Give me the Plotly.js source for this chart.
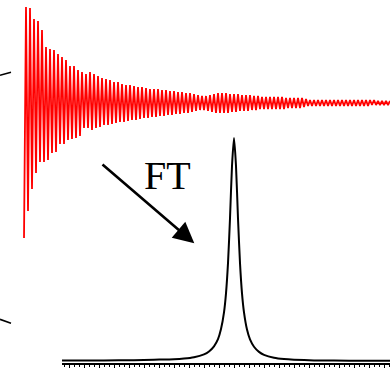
<!DOCTYPE html>
<html>
<head>
<meta charset="utf-8">
<script src="https://cdn.plot.ly/plotly-3.0.1.min.js"></script>
<style>
  html, body { margin: 0; padding: 0; background: #fff; }
  #chart { width: 390px; height: 368px; }
</style>
</head>
<body>
<div id="chart"></div>
<script>
// ---- FID (time domain) : extremes per cycle, amplitude relative to baseline ----
const fidTop = [
  96, 95, 84, 82, 73, 56, 54, 53, 49, 46,
  43, 37, 37, 33, 31, 29, 31, 29, 27, 25,
  24, 23, 21, 21, 19, 18, 18, 17, 16, 16,
  15, 14, 14, 14, 13, 13, 12, 12, 11, 11,
  10, 10, 9, 8, 7, 7, 8, 9, 10, 10,
  10, 9, 9, 9, 8, 8, 8, 7, 7, 6,
  6, 6, 6, 6, 6, 5, 5, 5, 5, 5,
  4, 3, 3, 3, 3, 3, 3, 3, 3, 3,
  3, 3, 3, 3, 3, 3, 3, 3, 2, 2,
  2, 2
];
const fidBottom = [
  -135, -108, -86, -70, -59, -59, -57, -50, -49, -41,
  -41, -37, -36, -35, -33, -25, -25, -27, -25, -24,
  -22, -22, -21, -20, -19, -19, -18, -17, -17, -16,
  -15, -15, -14, -14, -13, -13, -12, -12, -11, -11,
  -10, -10, -9, -8, -7, -7, -8, -9, -10, -10,
  -10, -10, -9, -9, -8, -8, -8, -7, -7, -6,
  -6, -6, -6, -6, -6, -6, -5, -5, -5, -5,
  -4, -3, -3, -3, -3, -3, -3, -3, -3, -3,
  -3, -3, -3, -3, -3, -3, -3, -2, -2, -2,
  -2, -2
];

// ---- Spectrum (frequency domain) ----
const specFreq = [
  -17.2, -16, -13, -10, -8, -6, -5, -4, -3, -2.5, -2, -1.6, -1.3, -1.0, -0.8, -0.6, -0.4, -0.2,
  0,
  0.2, 0.4, 0.6, 0.8, 1.0, 1.3, 1.6, 2, 2.5, 3, 4, 5, 6, 8, 10, 13, 15.6
];
const specInt = [
  0.004, 0.004, 0.005, 0.006, 0.008, 0.010, 0.013, 0.019, 0.032, 0.045, 0.068, 0.10, 0.145, 0.22, 0.305, 0.44, 0.64, 0.875,
  1.0,
  0.875, 0.64, 0.44, 0.305, 0.22, 0.143, 0.099, 0.066, 0.043, 0.030, 0.017, 0.011, 0.008, 0.005, 0.004, 0.003, 0.003
];

// build the FID zig-zag from the per-cycle extremes
const fidT = [], fidA = [];
for (let k = 0; k < fidTop.length; k++) {
  fidT.push(k);       fidA.push(fidBottom[k]);
  fidT.push(k + 0.5); fidA.push(fidTop[k]);
}

const W = 390, H = 368;
const px = x => x / W;
const py = y => 1 - y / H;

const traces = [
  {
    x: fidT, y: fidA, xaxis: 'x', yaxis: 'y',
    type: 'scatter', mode: 'lines',
    line: { color: '#ff0000', width: 1.8 },
    hoverinfo: 'skip'
  },
  {
    x: specFreq, y: specInt, xaxis: 'x2', yaxis: 'y2',
    type: 'scatter', mode: 'lines',
    line: { color: '#000000', width: 2, shape: 'spline', smoothing: 0.6 },
    hoverinfo: 'skip'
  }
];

const layout = {
  width: W, height: H,
  margin: { l: 0, r: 0, t: 0, b: 0, pad: 0 },
  paper_bgcolor: '#ffffff',
  plot_bgcolor: 'rgba(0,0,0,0)',
  showlegend: false,
  xaxis: { domain: [0, 1], range: [-6, 91.5], visible: false, fixedrange: true },
  yaxis: { domain: [0, 1], range: [-265, 103], visible: false, fixedrange: true },
  xaxis2: {
    domain: [px(62), 1], range: [-17.2, 15.6], anchor: 'y2',
    showline: true, linecolor: '#000', linewidth: 1.6,
    showgrid: false, zeroline: false, showticklabels: false,
    ticks: 'outside', ticklen: 3, tickwidth: 1, tickcolor: '#000', dtick: 1.5, tick0: 0,
    minor: { ticks: 'outside', ticklen: 2, tickwidth: 1, tickcolor: '#000', dtick: 0.5, showgrid: false },
    fixedrange: true
  },
  yaxis2: {
    domain: [5 / H, 1], range: [-0.0067, 1.6175], anchor: 'x2',
    visible: false, fixedrange: true
  },
  shapes: [
    { type: 'line', xref: 'paper', yref: 'paper', x0: px(0), y0: py(75.3), x1: px(11), y1: py(72.3),
      line: { color: '#000', width: 1.6 } },
    { type: 'line', xref: 'paper', yref: 'paper', x0: px(0), y0: py(319.3), x1: px(11), y1: py(323.3),
      line: { color: '#000', width: 1.6 } }
  ],
  annotations: [
    { xref: 'paper', yref: 'paper', x: px(194.3), y: py(243.3),
      ax: 101 - 194.3, ay: 163.3 - 243.3, axref: 'pixel', ayref: 'pixel',
      text: '', showarrow: true, arrowhead: 2, arrowsize: 1.6, arrowwidth: 2.6, arrowcolor: '#000' },
    { xref: 'paper', yref: 'paper', x: px(167), y: py(175), xanchor: 'center', yanchor: 'middle',
      text: 'FT', showarrow: false,
      font: { family: 'Liberation Serif, Times New Roman, serif', size: 40, color: '#000' } }
  ]
};

Plotly.newPlot('chart', traces, layout, { staticPlot: true, displayModeBar: false });
</script>
</body>
</html>
